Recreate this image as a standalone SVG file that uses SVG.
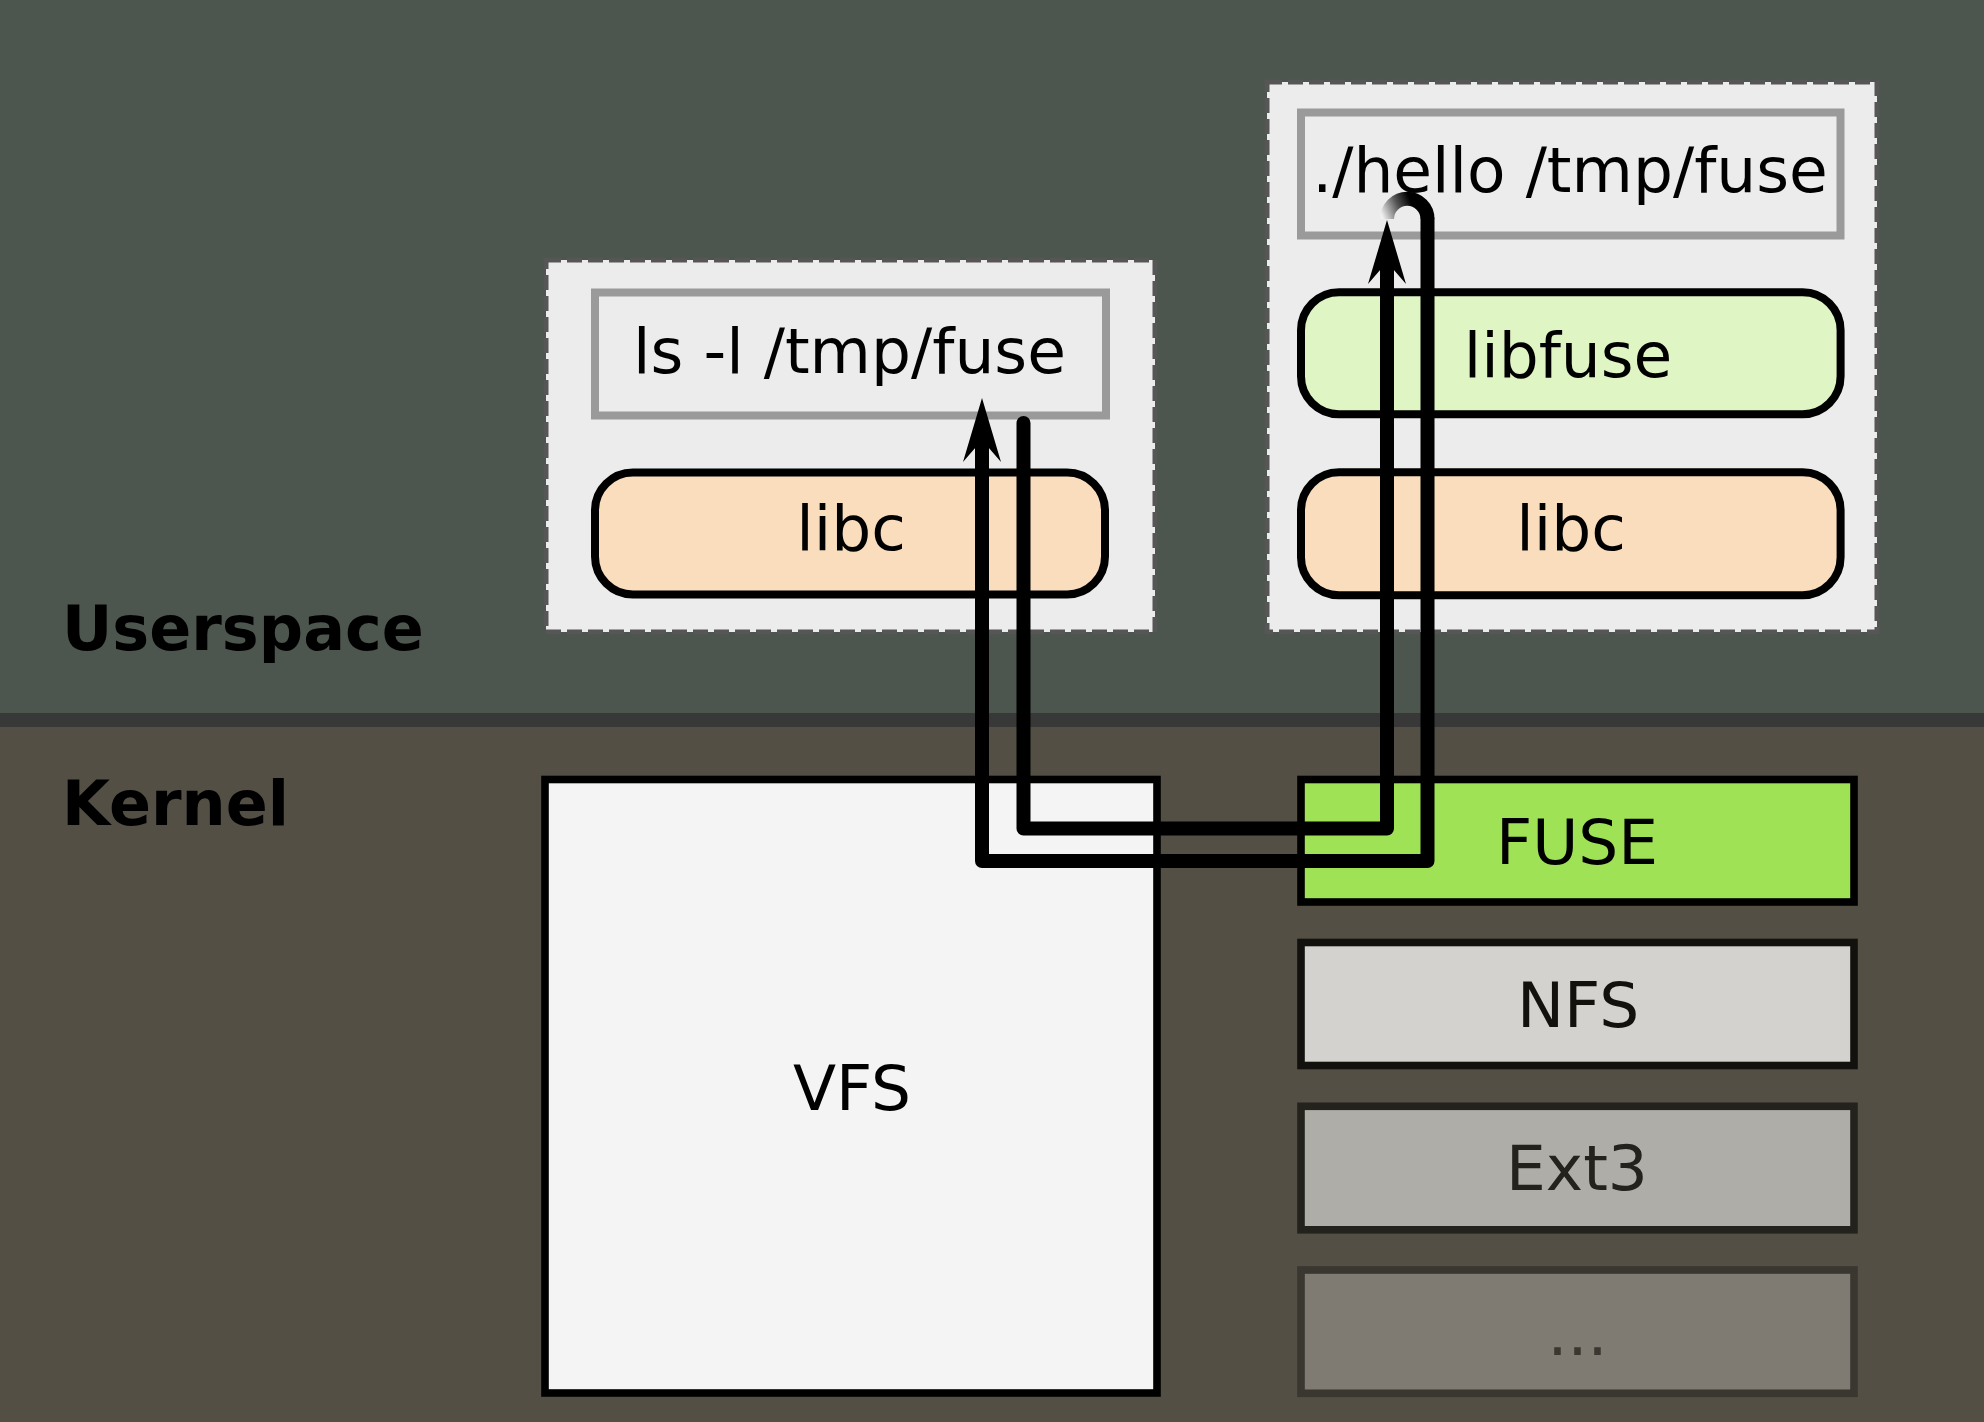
<svg xmlns="http://www.w3.org/2000/svg" width="1984" height="1422" viewBox="0 0 1984 1422">
<style>
.lbl{font-family:"DejaVu Sans","Liberation Sans",sans-serif;font-size:63px;text-anchor:middle}
.layer{font-family:"DejaVu Sans","Liberation Sans",sans-serif;font-size:62px;font-weight:bold;fill:#000}
.cont{fill:#ececec;stroke:none}
.dash{fill:none;stroke:#565656;stroke-width:5;stroke-dasharray:15 6}
.prog{fill:#ececec;stroke:#9a9a9a;stroke-width:8}
.lib{stroke:#000;stroke-width:8}
.fs{stroke-width:7.6}
.conn{fill:none;stroke:#000;stroke-width:14;stroke-linejoin:round;stroke-linecap:round}
</style>
<defs>
<marker id="arrow" markerUnits="userSpaceOnUse" orient="auto" refX="0" refY="0" markerWidth="80" markerHeight="60" overflow="visible">
<path d="M42,0 L-22,19 L0,0 L-22,-19 Z" fill="#000"/>
</marker>
<linearGradient id="arcgrad" gradientUnits="userSpaceOnUse" x1="1383" y1="218" x2="1425" y2="200">
<stop offset="0" stop-color="#f0f0f0"/>
<stop offset="0.4" stop-color="#555"/>
<stop offset="0.7" stop-color="#000"/>
<stop offset="1" stop-color="#000"/>
</linearGradient>
</defs>

<g id="background">
<rect x="0" y="0" width="1984" height="714" fill="#4c554e"/>
<rect x="0" y="726" width="1984" height="696" fill="#534f44"/>
<rect x="0" y="713" width="1984" height="14" fill="#383838"/>
</g>

<g id="userspace-label"><text class="layer" x="62" y="650">Userspace</text></g>
<g id="kernel-label"><text class="layer" x="62" y="825">Kernel</text></g>

<g id="container-ls">
<rect class="cont" x="546" y="260" width="609" height="372"/>
<rect class="dash" x="546" y="260" width="609" height="372"/>
</g>
<g id="container-hello">
<rect class="cont" x="1267" y="82" width="610" height="550"/>
<rect class="dash" x="1267" y="82" width="610" height="550"/>
</g>

<g id="node-ls">
<rect class="prog" x="595" y="292.5" width="511" height="123"/>
<text class="lbl" x="849.5" y="372.7">ls -l /tmp/fuse</text>
</g>
<g id="node-libc-left">
<rect class="lib" x="595" y="472.5" width="510" height="122" rx="38" ry="38" fill="#f9ddbd"/>
<text class="lbl" x="851" y="550">libc</text>
</g>
<g id="node-hello">
<rect class="prog" x="1301" y="112.5" width="539.5" height="123"/>
<text class="lbl" x="1570" y="191.7">./hello /tmp/fuse</text>
</g>
<g id="node-libfuse">
<rect class="lib" x="1301" y="292.3" width="539.6" height="122" rx="38" ry="38" fill="#dff5c4"/>
<text class="lbl" x="1568" y="376.7">libfuse</text>
</g>
<g id="node-libc-right">
<rect class="lib" x="1301" y="472.3" width="539.6" height="123" rx="38" ry="38" fill="#f9ddbd"/>
<text class="lbl" x="1571" y="550">libc</text>
</g>
<g id="node-vfs">
<rect class="fs" x="545" y="779.5" width="612" height="613.5" fill="#f4f4f4" stroke="#000"/>
<text class="lbl" x="852" y="1110" fill="#000">VFS</text>
</g>
<g id="node-fuse">
<rect class="fs" x="1301" y="779.5" width="553" height="122.5" fill="#9fe255" stroke="#000"/>
<text class="lbl" x="1577" y="864" fill="#000">FUSE</text>
</g>
<g id="node-nfs">
<rect class="fs" x="1301" y="942.5" width="553" height="123" fill="#d3d2ce" stroke="#12110d"/>
<text class="lbl" x="1578" y="1027.3" fill="#12110d">NFS</text>
</g>
<g id="node-ext3">
<rect class="fs" x="1301" y="1106.3" width="553" height="123.5" fill="#aeada7" stroke="#23221d"/>
<text class="lbl" x="1577" y="1190" fill="#23221d">Ext3</text>
</g>
<g id="node-more">
<rect class="fs" x="1301" y="1270" width="553" height="123.3" fill="#7f7a72" stroke="#3a3630"/>
<text class="lbl" x="1577.5" y="1355" fill="#3a3630">...</text>
</g>

<g id="connectors">
<path d="M1427.5,219 A20.25,20.25 0 0 0 1387,219" fill="none" stroke="url(#arcgrad)" stroke-width="14"/>
<path class="conn" d="M1023.5,423 V828.5 H1387 V262" marker-end="url(#arrow)"/>
<path class="conn" d="M1427.5,219 V861 H982 V440" marker-end="url(#arrow)"/>
</g>
</svg>
